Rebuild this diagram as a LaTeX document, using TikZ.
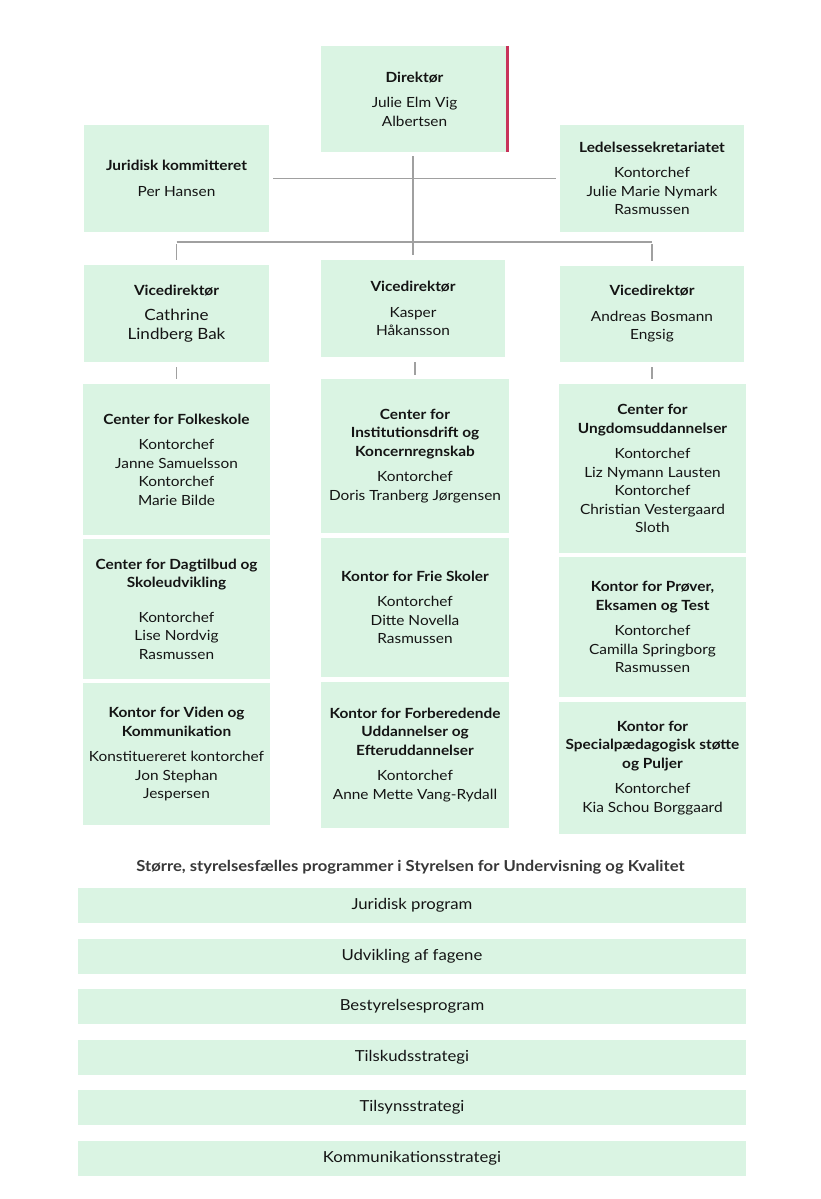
\documentclass[tikz,border=0pt]{standalone}
\usepackage{fontspec}
\setmainfont[FakeStretch=1.1]{Lato}
\definecolor{boxgreen}{HTML}{DAF4E3}
\definecolor{linegray}{HTML}{A0A0A0}
\definecolor{txt}{HTML}{141414}
\definecolor{redbar}{HTML}{C8325A}
\definecolor{titlegray}{HTML}{383838}
\tikzset{
  box/.style={fill=boxgreen, inner sep=0pt, align=center, text=txt,
    font=\fontsize{14}{18.5}\selectfont},
  bar/.style={fill=boxgreen, inner sep=0pt, align=center, text=txt,
    minimum width=668, minimum height=35, font=\fontsize{15.2}{18}\selectfont},
  conn/.style={draw=linegray, line width=1.6pt}
}
\newcommand{\hd}[1]{\textbf{#1}}
\begin{document}
\begin{tikzpicture}[x=1pt,y=-1pt]
\fill[white] (0,0) rectangle (821,1199);
\useasboundingbox (0,0) rectangle (821,1199);

% top level
\node[box, minimum width=188, minimum height=106] (dir) at (414.5,99) {\hd{Direktør}\\[7pt]Julie Elm Vig\\Albertsen};
\draw[redbar, line width=3pt] ([xshift=-1.5pt]dir.north east) -- ([xshift=-1.5pt]dir.south east);
\node[box, minimum width=185, minimum height=107] (jur) at (176.5,178.5) {\hd{Juridisk kommitteret}\\[7pt]Per Hansen};
\node[box, minimum width=184, minimum height=107] (led) at (652,178.5) {\hd{Ledelsessekretariatet}\\[7pt]Kontorchef\\Julie Marie Nymark\\Rasmussen};

% vicedirektører
\node[box, minimum width=185, minimum height=97] (vl) at (176.5,313.5) {\hd{Vicedirektør}\\[7pt]{\fontsize{15.5}{19}\selectfont Cathrine}\\{\fontsize{15.5}{19}\selectfont Lindberg Bak}};
\node[box, minimum width=184, minimum height=97] (vm) at (413,308.5) {\hd{Vicedirektør}\\[7pt]Kasper\\Håkansson};
\node[box, minimum width=184, minimum height=96] (vr) at (652,314) {\hd{Vicedirektør}\\[7pt]Andreas Bosmann\\Engsig};

% left column
\node[box, minimum width=187, minimum height=151] (c1) at (176.5,459.5) {\hd{Center for Folkeskole}\\[7pt]Kontorchef\\Janne Samuelsson\\Kontorchef\\Marie Bilde};
\node[box, minimum width=187, minimum height=140] (c2) at (176.5,609) {\hd{Center for Dagtilbud og}\\\hd{Skoleudvikling}\\[16pt]Kontorchef\\Lise Nordvig\\Rasmussen};
\node[box, minimum width=187, minimum height=142] (c3) at (176.5,754) {\hd{Kontor for Viden og}\\\hd{Kommunikation}\\[7pt]Konstituereret kontorchef\\Jon Stephan\\Jespersen};

% middle column
\node[box, minimum width=188, minimum height=154] (m1) at (415,456) {\hd{Center for}\\\hd{Institutionsdrift og}\\\hd{Koncernregnskab}\\[7pt]Kontorchef\\Doris Tranberg Jørgensen};
\node[box, minimum width=188, minimum height=139] (m2) at (415,607.5) {\hd{Kontor for Frie Skoler}\\[7pt]Kontorchef\\Ditte Novella\\Rasmussen};
\node[box, minimum width=188, minimum height=146] (m3) at (415,755) {\hd{Kontor for Forberedende}\\\hd{Uddannelser og}\\\hd{Efteruddannelser}\\[7pt]Kontorchef\\Anne Mette Vang-Rydall};

% right column
\node[box, minimum width=187, minimum height=169] (r1) at (652.5,468.5) {\hd{Center for}\\\hd{Ungdomsuddannelser}\\[7pt]Kontorchef\\Liz Nymann Lausten\\Kontorchef\\Christian Vestergaard\\Sloth};
\node[box, minimum width=187, minimum height=140] (r2) at (652.5,627) {\hd{Kontor for Prøver,}\\\hd{Eksamen og Test}\\[7pt]Kontorchef\\Camilla Springborg\\Rasmussen};
\node[box, minimum width=187, minimum height=132] (r3) at (652.5,768) {\hd{Kontor for}\\\hd{Specialpædagogisk støtte}\\\hd{og Puljer}\\[7pt]Kontorchef\\Kia Schou Borggaard};

% connectors
\coordinate (hub) at (413,242);
\draw[conn] ([xshift=4pt]jur.east) -- ([xshift=-4pt]led.west);
\draw[conn] (413,156) -- ([yshift=5pt]vm.north);
\draw[conn] ([yshift=-2pt]vl.north |- hub) -- ([yshift=5pt]vl.north);
\draw[conn] ([yshift=-2pt]vr.north |- hub) -- ([yshift=5pt]vr.north);
\draw[conn] (vl.north |- hub) -- (vr.north |- hub);
\draw[conn] ([yshift=-5pt]vl.south) -- ([yshift=5pt]vl.south |- c1.north);
\draw[conn] ([yshift=-5pt]vm.south -| m1.north) -- ([yshift=4pt]m1.north);
\draw[conn] ([yshift=-5pt]vr.south) -- ([yshift=5pt]vr.south |- r1.north);

% programmes
\node[font=\fontsize{15.1}{18}\selectfont\bfseries, text=titlegray] (ptitle) at (410.5,867) {Større, styrelsesfælles programmer i Styrelsen for Undervisning og Kvalitet};
\node[bar] (p1) at (412,905.5) {Juridisk program};
\node[bar] (p2) at (412,956) {Udvikling af fagene};
\node[bar] (p3) at (412,1006) {Bestyrelsesprogram};
\node[bar] (p4) at (412,1057) {Tilskudsstrategi};
\node[bar] (p5) at (412,1107) {Tilsynsstrategi};
\node[bar] (p6) at (412,1158) {Kommunikationsstrategi};
\end{tikzpicture}
\end{document}
